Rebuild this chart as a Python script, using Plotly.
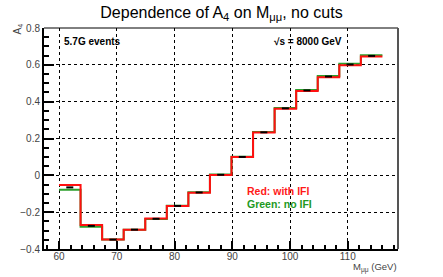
import plotly.graph_objects as go

# Data
bin_edges = [60 + i * (56 / 15) for i in range(16)]
red_vals = [-0.053, -0.270, -0.349, -0.295, -0.235, -0.167, -0.094, 0.002,
            0.099, 0.232, 0.362, 0.458, 0.533, 0.598, 0.645]
green_vals = [-0.078, -0.279, -0.349, -0.295, -0.237, -0.165, -0.092, 0.004,
              0.101, 0.235, 0.366, 0.464, 0.540, 0.606, 0.652]
x_ticks = [60, 70, 80, 90, 100, 110]
y_ticks = [-0.4, -0.2, 0, 0.2, 0.4, 0.6, 0.8]
y_tick_labels = ["\u22120.4", "\u22120.2", "0", "0.2", "0.4", "0.6", "0.8"]

centers = [(bin_edges[i] + bin_edges[i + 1]) / 2 for i in range(15)]

FONT = "Liberation Sans, Arial, sans-serif"

fig = go.Figure()
fig.add_trace(go.Scatter(x=bin_edges, y=green_vals + [green_vals[-1]], mode="lines",
                         line=dict(shape="hv", color="#2ca02c", width=2), showlegend=False))
fig.add_trace(go.Scatter(x=bin_edges, y=red_vals + [red_vals[-1]], mode="lines",
                         line=dict(shape="hv", color="#ff1010", width=2), showlegend=False))
fig.add_trace(go.Scatter(x=centers, y=[(r + g) / 2 for r, g in zip(red_vals, green_vals)],
                         mode="markers",
                         marker=dict(symbol="line-ew", size=5, line=dict(color="black", width=2)),
                         showlegend=False))

L, R, T, B = 44, 45, 28, 28
W, H = 443, 277
pw, ph = W - L - R, H - T - B

def px(x):
    return (x - L) / pw

def py(y):
    return (H - B - y) / ph

fig.update_layout(
    width=W, height=H,
    margin=dict(l=L, r=R, t=T, b=B),
    paper_bgcolor="white", plot_bgcolor="white",
    font=dict(family=FONT, size=10, color="#333"),
    title=dict(text="Dependence of A<sub>4</sub> on M<sub>\u03bc\u03bc</sub>, no cuts",
               x=0.5, xanchor="center", y=1 - 12 / H, yanchor="middle",
               font=dict(family=FONT, size=16, color="black")),
    xaxis=dict(range=[57.4, 118.7], tickvals=x_ticks, ticks="inside", ticklen=8,
               tickcolor="black", tickwidth=1.5, ticklabelstandoff=-3,
               showline=True, linecolor="black", linewidth=2, mirror=False,
               showgrid=True, gridcolor="black", griddash="dot", gridwidth=1,
               zeroline=False,
               minor=dict(dtick=2, ticks="inside", ticklen=4, tickcolor="black", showgrid=False),
               tickfont=dict(size=10, color="#444")),
    yaxis=dict(range=[-0.4, 0.8], tickvals=y_ticks, ticktext=y_tick_labels,
               ticks="inside", ticklen=10, tickcolor="black", tickwidth=1.5,
               showline=True, linecolor="black", linewidth=2, mirror=False,
               showgrid=True, gridcolor="black", griddash="dot", gridwidth=1,
               zeroline=False,
               minor=dict(dtick=0.05, ticks="inside", ticklen=5, tickcolor="black", showgrid=False),
               tickfont=dict(size=10, color="#444")),
)

# Frame: top thin, right grey
fig.add_shape(type="line", xref="paper", yref="paper", x0=0, x1=1, y0=1, y1=1,
              line=dict(color="black", width=1))
fig.add_shape(type="line", xref="paper", yref="paper", x0=1, x1=1, y0=0, y1=1,
              line=dict(color="#555", width=2))

ann = []
ann.append(dict(text="A<sub>4</sub>", x=px(17), y=py(22), xanchor="center", yanchor="top",
                textangle=-90, showarrow=False, font=dict(size=10, color="#444")))
ann.append(dict(text="M<sub>\u03bc\u03bc</sub> (GeV)", x=px(399), y=py(267), xanchor="right",
                yanchor="middle", showarrow=False, font=dict(size=9.5, color="#444")))
ann.append(dict(text="<b>5.7G events</b>", x=px(62), y=py(41), xanchor="left", yanchor="middle",
                showarrow=False, font=dict(size=10, color="black")))
ann.append(dict(text="<b>\u221as = 8000 GeV</b>", x=px(272), y=py(41), xanchor="left",
                yanchor="middle", showarrow=False, font=dict(size=10, color="black")))
ann.append(dict(text="<b>Red: with IFI</b>", x=px(245), y=py(191), xanchor="left",
                yanchor="middle", showarrow=False, font=dict(size=10.5, color="#ff1a1a")))
ann.append(dict(text="<b>Green: no IFI</b>", x=px(245), y=py(204), xanchor="left",
                yanchor="middle", showarrow=False, font=dict(size=10.5, color="#229922")))
for a in ann:
    a["xref"] = "paper"
    a["yref"] = "paper"
fig.update_layout(annotations=ann)

fig.write_html("out.html", config={"displayModeBar": False},
               post_script="document.body.style.margin='0';")
